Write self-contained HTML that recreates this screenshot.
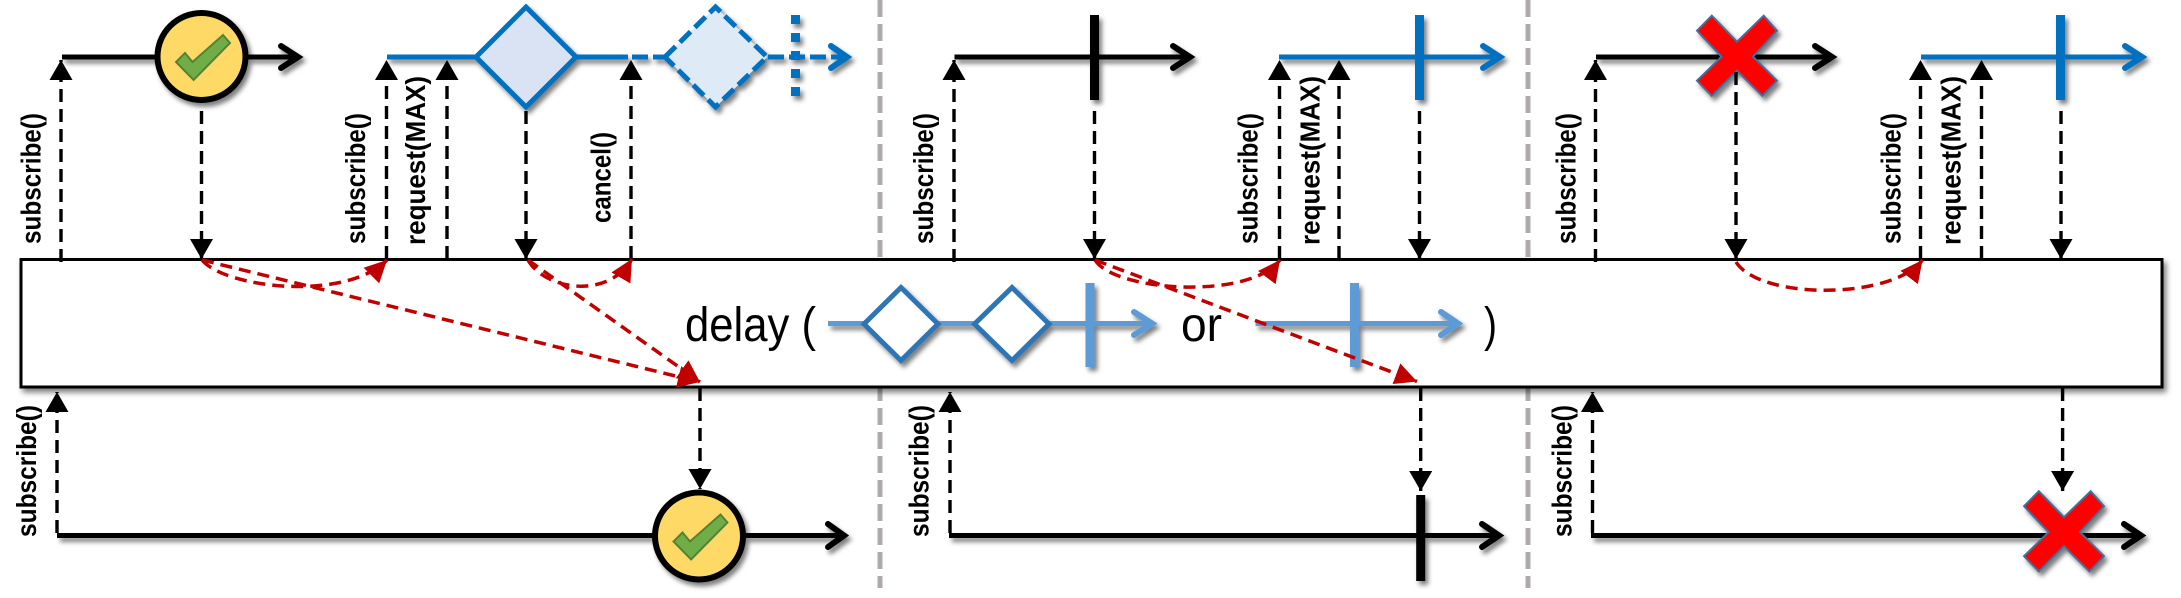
<!DOCTYPE html>
<html>
<head>
<meta charset="utf-8">
<style>
html,body{margin:0;padding:0;background:#fff;width:2181px;height:598px;overflow:hidden}
svg{display:block}
.l{font:bold 28px "Liberation Sans",sans-serif;fill:#000}
.d{font:48px "Liberation Sans",sans-serif;fill:#000}
.bd{fill:none;stroke:#000;stroke-width:3.4;stroke-dasharray:13 7}
.r{fill:none;stroke:#C00000;stroke-width:3.5;stroke-dasharray:12 7;marker-end:url(#ra)}
.sep{fill:none;stroke:#AFABAB;stroke-width:5;stroke-dasharray:17 7}
</style>
</head>
<body>
<svg width="2181" height="598" viewBox="0 0 2181 598" xmlns="http://www.w3.org/2000/svg">
<defs>
<filter id="s" x="-10%" y="-30%" width="125%" height="170%" filterUnits="objectBoundingBox">
<feDropShadow dx="3" dy="4" stdDeviation="2.5" flood-color="#000" flood-opacity=".5"/>
</filter>
<filter id="sb" x="-2%" y="-5%" width="104%" height="115%">
<feDropShadow dx="3" dy="4" stdDeviation="3" flood-color="#000" flood-opacity=".5"/>
</filter>
<marker id="ba" markerUnits="userSpaceOnUse" markerWidth="24" markerHeight="24" refX="20" refY="11.5" orient="auto">
<path d="M0 0L20 11.500L0 23Z" fill="#000"/>
</marker>
<marker id="ra" markerUnits="userSpaceOnUse" markerWidth="26" markerHeight="26" refX="22" refY="11" orient="auto">
<path d="M0 0L22 11L0 22Z" fill="#C00000"/>
</marker>
</defs>

<!-- separators -->
<path class="sep" d="M880 0V588"/>
<path class="sep" d="M1528 0V588"/>

<!-- operator box -->
<rect x="21" y="259.5" width="2141" height="127.5" fill="#fff" stroke="#000" stroke-width="3" filter="url(#sb)"/>

<!-- top: source 1 -->
<g filter="url(#s)">
<path d="M62 57H298" fill="none" stroke="#000" stroke-width="5"/>
<path d="M281 46L298 57L281 68" fill="none" stroke="#000" stroke-width="6" stroke-linecap="round" stroke-linejoin="miter"/>
<ellipse cx="201.5" cy="56.5" rx="44" ry="43.5" fill="#FFD966" stroke="#000" stroke-width="6"/>
</g>
<path d="M230 43L223 35L192.500 62L185 53L176 62L193.600 80Z" fill="#70AD47" stroke="#548235" stroke-width="2"/>

<!-- top: inner 1 -->
<g filter="url(#s)">
<path d="M387 57H628" fill="none" stroke="#0070C0" stroke-width="5"/>
<path d="M476 57L526 7L576 57L526 107Z" fill="#DAE3F3" stroke="#0070C0" stroke-width="5"/>
<path d="M632 57H665M768 57H847" fill="none" stroke="#0070C0" stroke-width="5" stroke-dasharray="16 5"/>
<path d="M665 57L715.500 7L767 57L715.500 107Z" fill="#DEEAF6" stroke="#0070C0" stroke-width="5" stroke-dasharray="15 6"/>
<path d="M795.500 15V97" fill="none" stroke="#0070C0" stroke-width="9" stroke-dasharray="9 9"/>
<path d="M831 46L847 57L831 68" fill="none" stroke="#0070C0" stroke-width="6" stroke-linecap="round"/>
</g>

<!-- top: source 2 -->
<g filter="url(#s)">
<path d="M954.500 57H1190" fill="none" stroke="#000" stroke-width="5"/>
<path d="M1173 46L1190 57L1173 68" fill="none" stroke="#000" stroke-width="6" stroke-linecap="round"/>
<path d="M1094.500 15V100" fill="none" stroke="#000" stroke-width="9"/>
</g>
<g filter="url(#s)">
<path d="M1279 57H1500" fill="none" stroke="#0070C0" stroke-width="5"/>
<path d="M1483 46L1500 57L1483 68" fill="none" stroke="#0070C0" stroke-width="6" stroke-linecap="round"/>
<path d="M1419.500 15V100" fill="none" stroke="#0070C0" stroke-width="9"/>
</g>

<!-- top: source 3 -->
<g filter="url(#s)">
<path d="M1596 57H1832" fill="none" stroke="#000" stroke-width="5"/>
<path d="M1815 46L1832 57L1815 68" fill="none" stroke="#000" stroke-width="6" stroke-linecap="round"/>
<path id="x1" d="M1697 30.700L1711.800 15.700L1737 41.700L1763.700 15.700L1777 30.700L1753 56.700L1777 80.700L1762.400 96L1737 70.700L1711.800 96L1697 80.700L1721.500 56.700Z" fill="#F00" stroke="#41719C" stroke-width="2"/>
</g>
<g filter="url(#s)">
<path d="M1921 57H2142" fill="none" stroke="#0070C0" stroke-width="5"/>
<path d="M2125 46L2142 57L2125 68" fill="none" stroke="#0070C0" stroke-width="6" stroke-linecap="round"/>
<path d="M2060.500 15V100" fill="none" stroke="#0070C0" stroke-width="9"/>
</g>

<!-- delay content -->
<g filter="url(#s)">
<path d="M828 323.500H1152" fill="none" stroke="#5B9BD5" stroke-width="5"/>
<path d="M1134 312L1152 323.500L1134 335" fill="none" stroke="#5B9BD5" stroke-width="6" stroke-linecap="round"/>
<path d="M1090 283V367" fill="none" stroke="#5B9BD5" stroke-width="9"/>
<path d="M864 324L901 287.500L938 324L901 360.500Z" fill="#fff" stroke="#2E75B6" stroke-width="5"/>
<path d="M974.500 324L1012 287.500L1049 324L1012 360.500Z" fill="#fff" stroke="#2E75B6" stroke-width="5"/>
</g>
<g filter="url(#s)">
<path d="M1255.500 323.500H1458" fill="none" stroke="#5B9BD5" stroke-width="5"/>
<path d="M1441 312L1458 323.500L1441 335" fill="none" stroke="#5B9BD5" stroke-width="6" stroke-linecap="round"/>
<path d="M1354.500 283V367" fill="none" stroke="#5B9BD5" stroke-width="9"/>
</g>
<text class="d" x="685" y="341" textLength="131" lengthAdjust="spacingAndGlyphs">delay (</text>
<text class="d" x="1181" y="341" textLength="41" lengthAdjust="spacingAndGlyphs">or</text>
<text class="d" x="1484" y="341" textLength="13" lengthAdjust="spacingAndGlyphs">)</text>

<!-- bottom lines -->
<g filter="url(#s)">
<path d="M57 535.500H844" fill="none" stroke="#000" stroke-width="5"/>
<path d="M828 524L844 535.500L828 547" fill="none" stroke="#000" stroke-width="6" stroke-linecap="round"/>
<ellipse cx="699" cy="536" rx="44" ry="43.500" fill="#FFD966" stroke="#000" stroke-width="6"/>
</g>
<path d="M727.500 522.500L720.500 514.500L690 541.500L682.500 532.500L673.500 541.500L691.100 559.500Z" fill="#70AD47" stroke="#548235" stroke-width="2"/>
<g filter="url(#s)">
<path d="M949 535.500H1499" fill="none" stroke="#000" stroke-width="5"/>
<path d="M1482 524L1499 535.500L1482 547" fill="none" stroke="#000" stroke-width="6" stroke-linecap="round"/>
<path d="M1420.700 495V581" fill="none" stroke="#000" stroke-width="9"/>
</g>
<g filter="url(#s)">
<path d="M1591 535.500H2141" fill="none" stroke="#000" stroke-width="5"/>
<path d="M2124 524L2141 535.500L2124 547" fill="none" stroke="#000" stroke-width="6" stroke-linecap="round"/>
<path transform="translate(327 475.500)" d="M1697 30.700L1711.800 15.700L1737 41.700L1763.700 15.700L1777 30.700L1753 56.700L1777 80.700L1762.400 96L1737 70.700L1711.800 96L1697 80.700L1721.500 56.700Z" fill="#F00" stroke="#41719C" stroke-width="2"/>
</g>

<!-- black dashed up arrows: top -->
<path class="bd" marker-end="url(#ba)" d="M61 262V60"/>
<path class="bd" marker-end="url(#ba)" d="M386.500 259V60"/>
<path class="bd" marker-end="url(#ba)" d="M447 259V60"/>
<path class="bd" marker-end="url(#ba)" d="M631 259V60"/>
<path class="bd" marker-end="url(#ba)" d="M954 262V60"/>
<path class="bd" marker-end="url(#ba)" d="M1279.500 259V60"/>
<path class="bd" marker-end="url(#ba)" d="M1339 259V60"/>
<path class="bd" marker-end="url(#ba)" d="M1595.500 262V60"/>
<path class="bd" marker-end="url(#ba)" d="M1920.500 259V60"/>
<path class="bd" marker-end="url(#ba)" d="M1981.500 259V60"/>
<!-- black dashed down arrows: top -->
<path class="bd" marker-end="url(#ba)" d="M201.500 111V259"/>
<path class="bd" marker-end="url(#ba)" d="M526 111V259"/>
<path class="bd" marker-end="url(#ba)" d="M1094.500 111V259"/>
<path class="bd" marker-end="url(#ba)" d="M1419.500 111V259"/>
<path class="bd" marker-end="url(#ba)" d="M1736 72V259"/>
<path class="bd" marker-end="url(#ba)" d="M2061 111V259"/>
<!-- black dashed: bottom -->
<path class="bd" marker-end="url(#ba)" d="M57 533V392"/>
<path class="bd" marker-end="url(#ba)" d="M950 533V392"/>
<path class="bd" marker-end="url(#ba)" d="M1592.500 533V392"/>
<path class="bd" marker-end="url(#ba)" d="M700 388V489"/>
<path class="bd" marker-end="url(#ba)" d="M1420.700 388V491"/>
<path class="bd" marker-end="url(#ba)" d="M2062.600 388V491"/>

<!-- red dashed -->
<path class="r" d="M202 260C225 288 345 302 387 260"/>
<path class="r" d="M202 260L700 382"/>
<path class="r" d="M528 260C545 290 608 300 632 259"/>
<path class="r" d="M528 260L700 382"/>
<path class="r" d="M1095 260C1115 292 1250 300 1280 260"/>
<path class="r" d="M1095 260L1417 381.500"/>
<path class="r" d="M1736 262C1760 300 1892 300 1922.500 260"/>

<!-- labels -->
<text class="l" transform="translate(40.500 244) rotate(-90)" textLength="131" lengthAdjust="spacingAndGlyphs">subscribe()</text>
<text class="l" transform="translate(365 244) rotate(-90)" textLength="131" lengthAdjust="spacingAndGlyphs">subscribe()</text>
<text class="l" transform="translate(425 245) rotate(-90)" textLength="169" lengthAdjust="spacingAndGlyphs">request(MAX)</text>
<text class="l" transform="translate(610.500 223) rotate(-90)" textLength="91" lengthAdjust="spacingAndGlyphs">cancel()</text>
<text class="l" transform="translate(933 244) rotate(-90)" textLength="131" lengthAdjust="spacingAndGlyphs">subscribe()</text>
<text class="l" transform="translate(1257.700 244) rotate(-90)" textLength="131" lengthAdjust="spacingAndGlyphs">subscribe()</text>
<text class="l" transform="translate(1319.700 245) rotate(-90)" textLength="169" lengthAdjust="spacingAndGlyphs">request(MAX)</text>
<text class="l" transform="translate(1575.600 244) rotate(-90)" textLength="131" lengthAdjust="spacingAndGlyphs">subscribe()</text>
<text class="l" transform="translate(1900.700 244) rotate(-90)" textLength="131" lengthAdjust="spacingAndGlyphs">subscribe()</text>
<text class="l" transform="translate(1960.600 245) rotate(-90)" textLength="169" lengthAdjust="spacingAndGlyphs">request(MAX)</text>
<text class="l" transform="translate(36 537) rotate(-90)" textLength="132" lengthAdjust="spacingAndGlyphs">subscribe()</text>
<text class="l" transform="translate(928.500 537) rotate(-90)" textLength="132" lengthAdjust="spacingAndGlyphs">subscribe()</text>
<text class="l" transform="translate(1571.400 537) rotate(-90)" textLength="132" lengthAdjust="spacingAndGlyphs">subscribe()</text>
</svg>
</body>
</html>
